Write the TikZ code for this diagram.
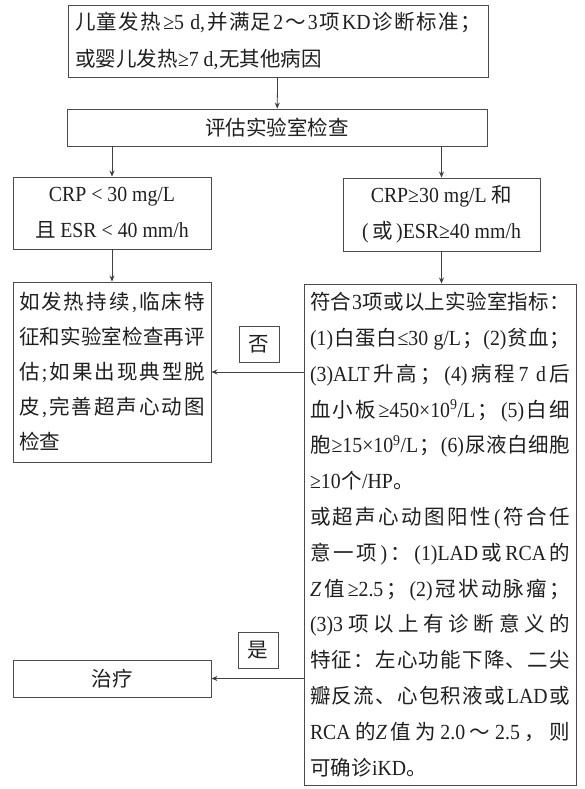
\documentclass[tikz,border=0pt]{standalone}
\usepackage{fontspec}
\setmainfont{Liberation Serif}[FakeStretch=0.92,Scale=1.05]
\newfontfamily\latinfont{Liberation Serif}[FakeStretch=0.92,Scale=1.05]
\newfontfamily\cjkfont{Noto Sans CJK SC}
\usetikzlibrary{arrows.meta}
\XeTeXinterchartokenstate=1
\newXeTeXintercharclass\CJKcls
\newcount\cjkc
\cjkc="3000 \loop \XeTeXcharclass\cjkc=\CJKcls \advance\cjkc by 1 \ifnum\cjkc<"3040 \repeat
\cjkc="4E00 \loop \XeTeXcharclass\cjkc=\CJKcls \advance\cjkc by 1 \ifnum\cjkc<"A000 \repeat
\cjkc="FF00 \loop \XeTeXcharclass\cjkc=\CJKcls \advance\cjkc by 1 \ifnum\cjkc<"FFF0 \repeat
\XeTeXinterchartoks \CJKcls \CJKcls = {\hskip 0pt plus 3pt minus 0.4pt\relax}
\XeTeXinterchartoks 0 \CJKcls = {\hskip 0.5pt plus 3pt minus 0.4pt\relax\cjkfont}
\XeTeXinterchartoks 4095 \CJKcls = {\cjkfont}
\XeTeXinterchartoks \CJKcls 0 = {\latinfont\hskip 0.5pt plus 3pt minus 0.4pt\relax}
\XeTeXinterchartoks 4095 0 = {\latinfont}
\newcommand\itZ{{\XeTeXinterchartokenstate=0 \latinfont\itshape Z}}
\tolerance=10000
\pretolerance=-1
\parindent=0pt
\parskip=0pt
\tikzset{
  box/.style={draw=black!70, line width=0.9pt, inner sep=0pt, text=black!88,
    font=\fontsize{20.5pt}{36pt}\selectfont},
  lbl/.style={box, minimum width=40pt, minimum height=36pt},
  arr/.style={draw=black!75, line width=0.8pt, -{Stealth[length=6pt,width=5pt]}},
}
\begin{document}
\begin{tikzpicture}[x=1pt,y=-1pt]
\useasboundingbox (0,0) rectangle (584,789);
\node[box, minimum width=420pt, minimum height=72pt, text width=406pt, align=justify,
  font=\fontsize{20.5pt}{37pt}\selectfont] (top) at (278,41)
  {儿童发热≥5 d,并满足2～3项KD诊断标准；\linebreak
或婴儿发热≥7 d,无其他病因};
\node[box, minimum width=420pt, minimum height=37pt] (lab) at (277,127.5) {评估实验室检查};
\node[box, minimum width=198pt, minimum height=72pt, align=center] (crp1) at (112,213)
  {CRP < 30 mg/L\\且 ESR < 40 mm/h};
\node[box, minimum width=197pt, minimum height=73pt, align=center] (crp2) at (441.5,214.5)
  {CRP≥30 mg/L 和\\(\,或\,)ESR≥40 mm/h};
\node[box, minimum width=198pt, minimum height=180pt, text width=186pt, align=justify,
  font=\fontsize{20.5pt}{35pt}\selectfont] (reeval) at (112,372)
  {如发热持续,临床特\linebreak
征和实验室检查再评\linebreak
估;如果出现典型脱\linebreak
皮,完善超声心动图\linebreak
检查};
\node[box, minimum width=272pt, minimum height=501pt, text width=260pt, align=justify,
  font=\fontsize{20.5pt}{35.8pt}\selectfont] (big) at (440,534.5)
  {符合3项或以上实验室指标：\linebreak
(1)白蛋白≤30 g/L；(2)贫血；\linebreak
(3)ALT升高；(4)病程7 d后\linebreak
血小板≥450×10\textsuperscript{9}/L；(5)白细\linebreak
胞≥15×10\textsuperscript{9}/L；(6)尿液白细胞\linebreak
≥10个/HP。\par
或超声心动图阳性(符合任\linebreak
意一项)：(1)LAD或RCA的\linebreak
\itZ\,值≥2.5；(2)冠状动脉瘤；\linebreak
(3)3项以上有诊断意义的\linebreak
特征：左心功能下降、二尖\linebreak
瓣反流、心包积液或LAD或\linebreak
RCA的\itZ\,值为2.0～2.5，则\linebreak
可确诊iKD。};
\node[box, minimum width=198pt, minimum height=37pt] (treat) at (112,678.5) {治疗};
\node[lbl] (no) at (259,344) {否};
\node[lbl] (yes) at (258,650) {是};
\draw[arr] (top) -- (lab);
\draw[arr] (lab.south -| crp1.north) -- (crp1.north);
\draw[arr] (lab.south -| crp2.north) -- (crp2.north);
\draw[arr] (crp1) -- (reeval);
\draw[arr] (crp2.south) -- (crp2.south |- big.north);
\draw[arr] (big.west |- reeval.east) -- (reeval.east);
\draw[arr] (big.west |- treat.east) -- (treat.east);
\end{tikzpicture}
\end{document}
